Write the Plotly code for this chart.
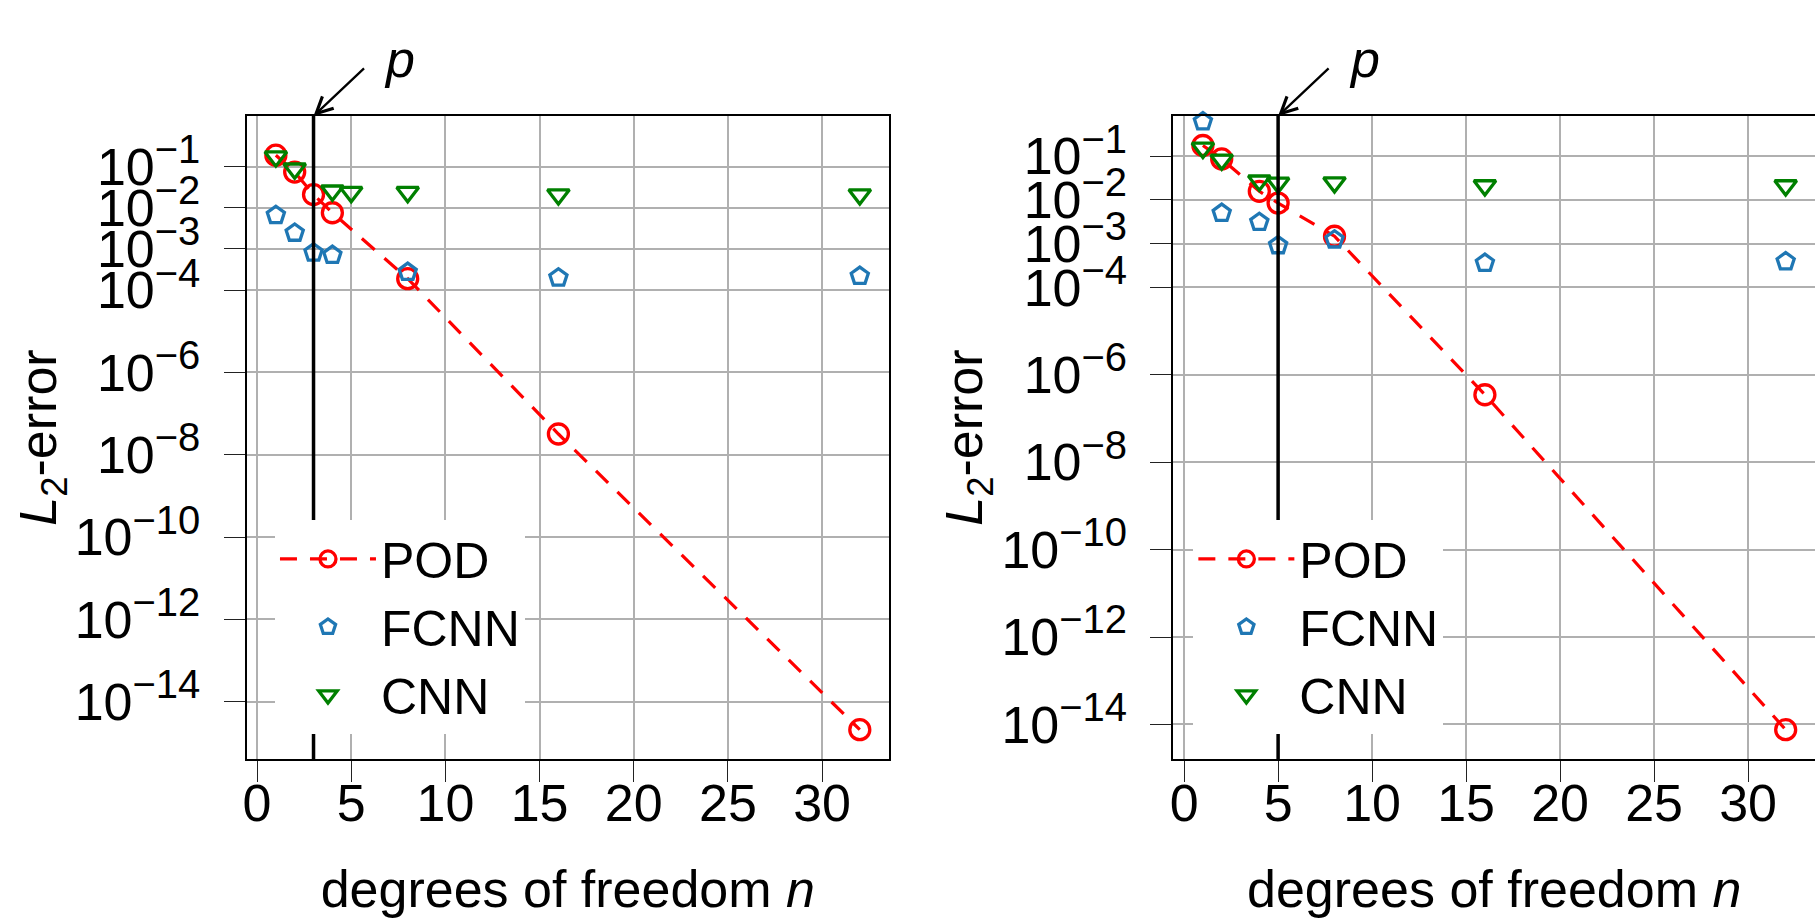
import plotly.graph_objects as go

# ---------------- data ----------------
p_left = 3
p_right = 5

n_left_pod = [1, 2, 3, 4, 8, 16, 32]
err_left_pod = [1.9e-1, 7.4e-2, 2.1e-2, 7.6e-3, 1.9e-4, 3.2e-8, 2.1e-15]
n_left_fcnn = [1, 2, 3, 4, 8, 16, 32]
err_left_fcnn = [6.6e-3, 2.45e-3, 8.1e-4, 7.1e-4, 2.75e-4, 2.0e-4, 2.2e-4]
n_left_cnn = [1, 2, 4, 5, 8, 16, 32]
err_left_cnn = [1.75e-1, 8.9e-2, 2.6e-2, 2.4e-2, 2.4e-2, 2.1e-2, 2.1e-2]

n_right_pod = [1, 2, 4, 5, 8, 16, 32]
err_right_pod = [1.76e-1, 8.7e-2, 1.58e-2, 8.5e-3, 1.48e-3, 3.5e-7, 7.6e-15]
n_right_fcnn = [1, 2, 4, 5, 8, 16, 32]
err_right_fcnn = [6.2e-1, 5.0e-3, 3.1e-3, 9.1e-4, 1.23e-3, 3.6e-4, 3.9e-4]
n_right_cnn = [1, 2, 4, 5, 8, 16, 32]
err_right_cnn = [1.55e-1, 8.3e-2, 2.75e-2, 2.45e-2, 2.5e-2, 2.14e-2, 2.14e-2]

x_ticks = [0, 5, 10, 15, 20, 25, 30]
y_tick_exps = [-1, -2, -3, -4, -6, -8, -10, -12, -14]
y_tick_vals = [10.0 ** e for e in y_tick_exps]
y_tick_text = ["10<sup><span style='font-size:40px'>\u2212%d</span></sup>" % (-e)
               for e in y_tick_exps]

legend_names = ["POD", "FCNN", "CNN"]

# ---------------- style ----------------
FONT = "Liberation Sans"
FS = 52
RED = "#ff0000"
BLUE = "#1f77b4"
GREEN = "#008000"
GRID = "#b0b0b0"

fig = go.Figure()


def add_panel(xa, ya, leg, n_pod, e_pod, n_fc, e_fc, n_cnn, e_cnn):
    fig.add_trace(go.Scatter(
        x=n_pod, y=e_pod, name=legend_names[0], mode="lines+markers",
        xaxis=xa, yaxis=ya, legend=leg, cliponaxis=False,
        line=dict(color=RED, width=3.2, dash="17px,13px"),
        marker=dict(symbol="circle-open", size=20, color=RED,
                    line=dict(width=3.3, color=RED)),
    ))
    fig.add_trace(go.Scatter(
        x=n_fc, y=e_fc, name=legend_names[1], mode="markers",
        xaxis=xa, yaxis=ya, legend=leg, cliponaxis=False,
        marker=dict(symbol="pentagon-open", size=18, color=BLUE,
                    line=dict(width=3.3, color=BLUE)),
    ))
    fig.add_trace(go.Scatter(
        x=n_cnn, y=e_cnn, name=legend_names[2], mode="markers",
        xaxis=xa, yaxis=ya, legend=leg, cliponaxis=False,
        marker=dict(symbol="triangle-down-open", size=19, color=GREEN,
                    line=dict(width=3.3, color=GREEN)),
    ))


add_panel("x", "y", "legend", n_left_pod, err_left_pod, n_left_fcnn,
          err_left_fcnn, n_left_cnn, err_left_cnn)
add_panel("x2", "y2", "legend2", n_right_pod, err_right_pod, n_right_fcnn,
          err_right_fcnn, n_right_cnn, err_right_cnn)

xaxis_common = dict(
    tickvals=x_ticks, ticks="outside", ticklen=21, tickwidth=1.2,
    tickcolor="#222", showline=True, mirror=True, linecolor="black",
    linewidth=1.8, showgrid=True, gridcolor=GRID, gridwidth=2,
    zeroline=False, tickfont=dict(family=FONT, size=FS, color="black"),
    ticklabelstandoff=-23, automargin=False,
    title=dict(text="degrees of freedom <i>n</i>",
               font=dict(family=FONT, size=FS, color="black"), standoff=66),
)
yaxis_common = dict(
    type="log", tickvals=y_tick_vals, ticktext=y_tick_text,
    ticks="outside", ticklen=21, tickwidth=1.2, tickcolor="#222",
    showline=True, mirror=True, linecolor="black", linewidth=1.8,
    showgrid=True, gridcolor=GRID, gridwidth=2, zeroline=False,
    tickfont=dict(family=FONT, size=FS, color="black"),
    ticklabelstandoff=13, automargin=False,
    title=dict(text="<i>L</i><sub>2</sub>-error",
               font=dict(family=FONT, size=FS, color="black"), standoff=0),
)

legend_common = dict(
    bgcolor="white", borderwidth=0, xanchor="left", yanchor="top",
    font=dict(family=FONT, size=50, color="black"), itemwidth=96,
)

fig.update_layout(
    width=1815, height=918,
    margin=dict(l=0, r=0, t=0, b=0, pad=0, autoexpand=False),
    paper_bgcolor="white", plot_bgcolor="white",
    font=dict(family=FONT, size=FS, color="black"),
    xaxis=dict(domain=[0.1359, 0.4898], range=[-0.55, 33.55],
               anchor="y", **xaxis_common),
    yaxis=dict(domain=[0.1732, 0.8736], range=[-15.39, 0.23],
               anchor="x", **yaxis_common),
    xaxis2=dict(domain=[0.6465, 1.0], range=[-0.57, 33.56],
                anchor="y2", **xaxis_common),
    yaxis2=dict(domain=[0.1732, 0.8736], range=[-14.79, -0.08],
                anchor="x2", **yaxis_common),
    legend=dict(x=0.1515, y=0.4336, **legend_common),
    legend2=dict(x=0.6575, y=0.4336, **legend_common),
    showlegend=True,
)

for xa, ya, p in [("x", "y", p_left), ("x2", "y2", p_right)]:
    fig.add_shape(type="line", xref=xa, yref=ya + " domain", x0=p, x1=p,
                  y0=0, y1=1, line=dict(color="black", width=3.5),
                  layer="above")
    fig.add_annotation(xref=xa, yref=ya + " domain", x=p, y=1, text=" ",
                       font=dict(size=1), showarrow=True, ax=52, ay=-49,
                       arrowhead=5, arrowsize=1.4, arrowwidth=2.3,
                       arrowcolor="black", standoff=0, startstandoff=0)
    fig.add_annotation(xref=xa, yref=ya + " domain", x=p, y=1,
                       text="<i>p</i>", showarrow=False, xshift=86,
                       yshift=88, font=dict(family=FONT, size=FS,
                                            color="black"))

fig.write_html(
    "out.html",
    config={"displayModeBar": False},
    post_script="document.body.style.margin='0px';"
                "document.body.style.overflow='hidden';",
)
